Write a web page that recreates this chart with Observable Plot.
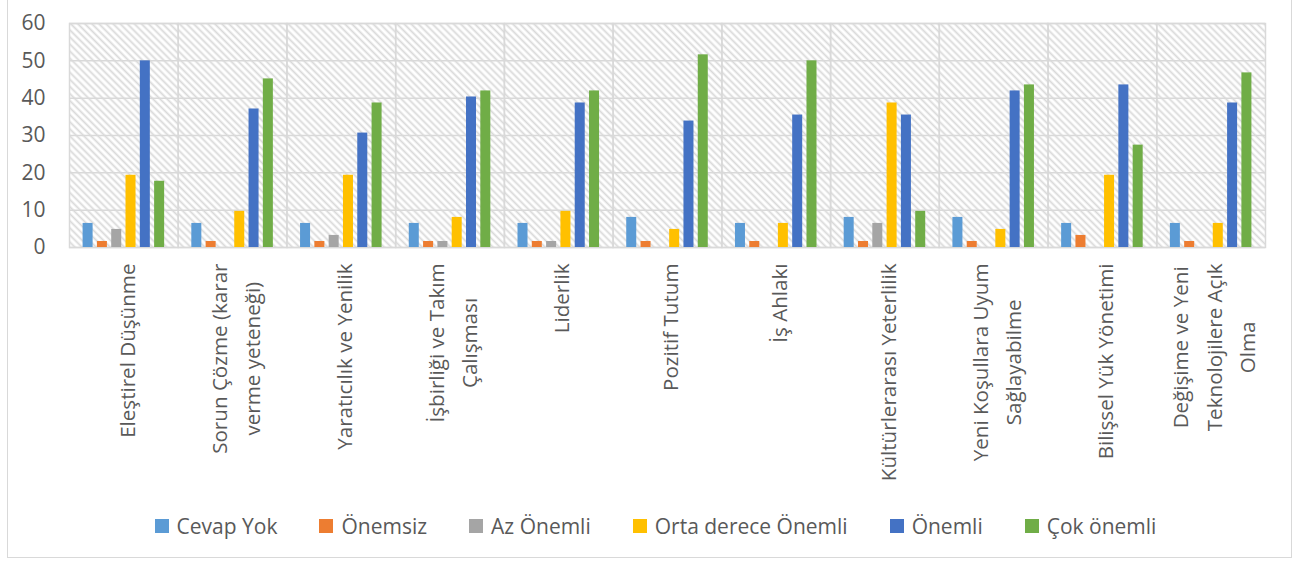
<!DOCTYPE html>
<html>
<head>
<meta charset="utf-8">
<script src="https://cdn.jsdelivr.net/npm/d3@7"></script>
<script src="https://cdn.jsdelivr.net/npm/@observablehq/plot@0.6"></script>
<style>
  html, body { margin: 0; padding: 0; background: #fff; }
  #frame {
    position: absolute; left: 7px; top: -1px;
    width: 1283px; height: 557px;
    border: 1px solid #d9d9d9; background: #fff; overflow: hidden;
  }
  #chart { position: absolute; left: 0; top: 0; }
  #legend {
    position: absolute; left: 12px; right: 0; top: 512px; height: 28px;
    display: flex; justify-content: center; align-items: center; gap: 42px;
    font-family: 'Open Sans', sans-serif; font-size: 21px; color: #595959;
  }
  #legend .item { display: flex; align-items: center; white-space: nowrap; }
  #legend .sw { width: 14px; height: 14px; margin-right: 8px; display: inline-block; }
</style>
</head>
<body>
<svg width="0" height="0" style="position:absolute">
  <defs>
    <pattern id="hatch" patternUnits="userSpaceOnUse" width="5" height="10" patternTransform="rotate(-45)">
      <rect width="5" height="10" fill="#ffffff"></rect>
      <line x1="2.5" y1="0" x2="2.5" y2="10" stroke="#d9d9d9" stroke-width="1.8"></line>
    </pattern>
  </defs>
</svg>
<div id="frame">
  <div id="chart"></div>
  <div id="legend"></div>
</div>
<script>
// ---- data ----
const categories = [
  "Eleştirel Düşünme",
  "Sorun Çözme (karar verme yeteneği)",
  "Yaratıcılık ve Yenilik",
  "İşbirliği ve Takım Çalışması",
  "Liderlik",
  "Pozitif Tutum",
  "İş Ahlakı",
  "Kültürlerarası Yeterlilik",
  "Yeni Koşullara Uyum Sağlayabilme",
  "Bilişsel Yük Yönetimi",
  "Değişime ve Yeni Teknolojilere Açık Olma"
];
const categoryLabels = [
  "Eleştirel Düşünme",
  "Sorun Çözme (karar\nverme yeteneği)",
  "Yaratıcılık ve Yenilik",
  "İşbirliği ve Takım\nÇalışması",
  "Liderlik",
  "Pozitif Tutum",
  "İş Ahlakı",
  "Kültürlerarası Yeterlilik",
  "Yeni Koşullara Uyum\nSağlayabilme",
  "Bilişsel Yük Yönetimi",
  "Değişime ve Yeni\nTeknolojilere Açık\nOlma"
];
const series = ["Cevap Yok", "Önemsiz", "Az Önemli", "Orta derece Önemli", "Önemli", "Çok önemli"];
const seriesColors = ["#5B9BD5", "#ED7D31", "#A5A5A5", "#FFC000", "#4472C4", "#70AD47"];

const cevapYok  = [6.45, 6.45, 6.45, 6.45, 6.45, 8.06, 6.45, 8.06, 8.06, 6.45, 6.45];
const onemsiz   = [1.61, 1.61, 1.61, 1.61, 1.61, 1.61, 1.61, 1.61, 1.61, 3.23, 1.61];
const azOnemli  = [4.84, 0, 3.23, 1.61, 1.61, 0, 0, 6.45, 0, 0, 0];
const ortaDerece = [19.35, 9.68, 19.35, 8.06, 9.68, 4.84, 6.45, 38.71, 4.84, 19.35, 6.45];
const onemli    = [50, 37.10, 30.65, 40.32, 38.71, 33.87, 35.48, 35.48, 41.94, 43.55, 38.71];
const cokOnemli = [17.74, 45.16, 38.71, 41.94, 41.94, 51.61, 50, 9.68, 43.55, 27.42, 46.77];

const yTicks = [0, 10, 20, 30, 40, 50, 60];

// ---- build table ----
const seriesValues = [cevapYok, onemsiz, azOnemli, ortaDerece, onemli, cokOnemli];
const data = [];
categories.forEach((c, i) => {
  series.forEach((s, j) => data.push({category: c, series: s, value: seriesValues[j][i]}));
});

// measure label widths for Excel-like centered multi-line labels
const ctx = document.createElement("canvas").getContext("2d");
const labelFont = 20.6;
ctx.font = `${labelFont}px 'Open Sans'`;
const maxLineWidth = (t) => Math.max(...t.split("\n").map(l => ctx.measureText(l).width));

const gridColor = "#d9d9d9";
const textColor = "#595959";

const labelMarks = categories.map((c, i) => Plot.text([c], {
  fx: d => d,
  text: () => categoryLabels[i],
  frameAnchor: "bottom",
  rotate: -90,
  textAnchor: "middle",
  lineAnchor: "middle",
  lineHeight: 1.62,
  fontSize: labelFont,
  fill: textColor,
  dy: 16 + maxLineWidth(categoryLabels[i]) / 2
}));

const chart = Plot.plot({
  width: 1283,
  height: 480,
  marginLeft: 61,
  marginRight: 26,
  marginTop: 23,
  marginBottom: 233,
  style: {fontFamily: "'Open Sans', sans-serif", background: "transparent", overflow: "visible"},
  fx: {domain: categories, padding: 0, round: false, axis: null},
  x: {domain: series, paddingInner: 0.3, paddingOuter: 0.95, round: false, axis: null},
  y: {domain: [0, 60], axis: null},
  color: {domain: series, range: seriesColors},
  marks: [
    Plot.frame({fill: "url(#hatch)", stroke: null}),
    Plot.gridY(yTicks, {stroke: gridColor, strokeOpacity: 1, strokeWidth: 1.5}),
    Plot.frame({stroke: gridColor, strokeWidth: 1.5}),
    Plot.barY(data, {fx: "category", x: "series", y: "value", fill: "series"}),
    Plot.axisY(yTicks, {tickSize: 0, tickPadding: 24, fontSize: 21, fill: textColor, label: null}),
    ...labelMarks
  ]
});
document.getElementById("chart").appendChild(chart);

// ---- legend ----
const legend = document.getElementById("legend");
series.forEach((s, j) => {
  const item = document.createElement("span");
  item.className = "item";
  const sw = document.createElement("span");
  sw.className = "sw";
  sw.style.background = seriesColors[j];
  item.appendChild(sw);
  item.appendChild(document.createTextNode(s));
  legend.appendChild(item);
});
</script>
</body>
</html>
